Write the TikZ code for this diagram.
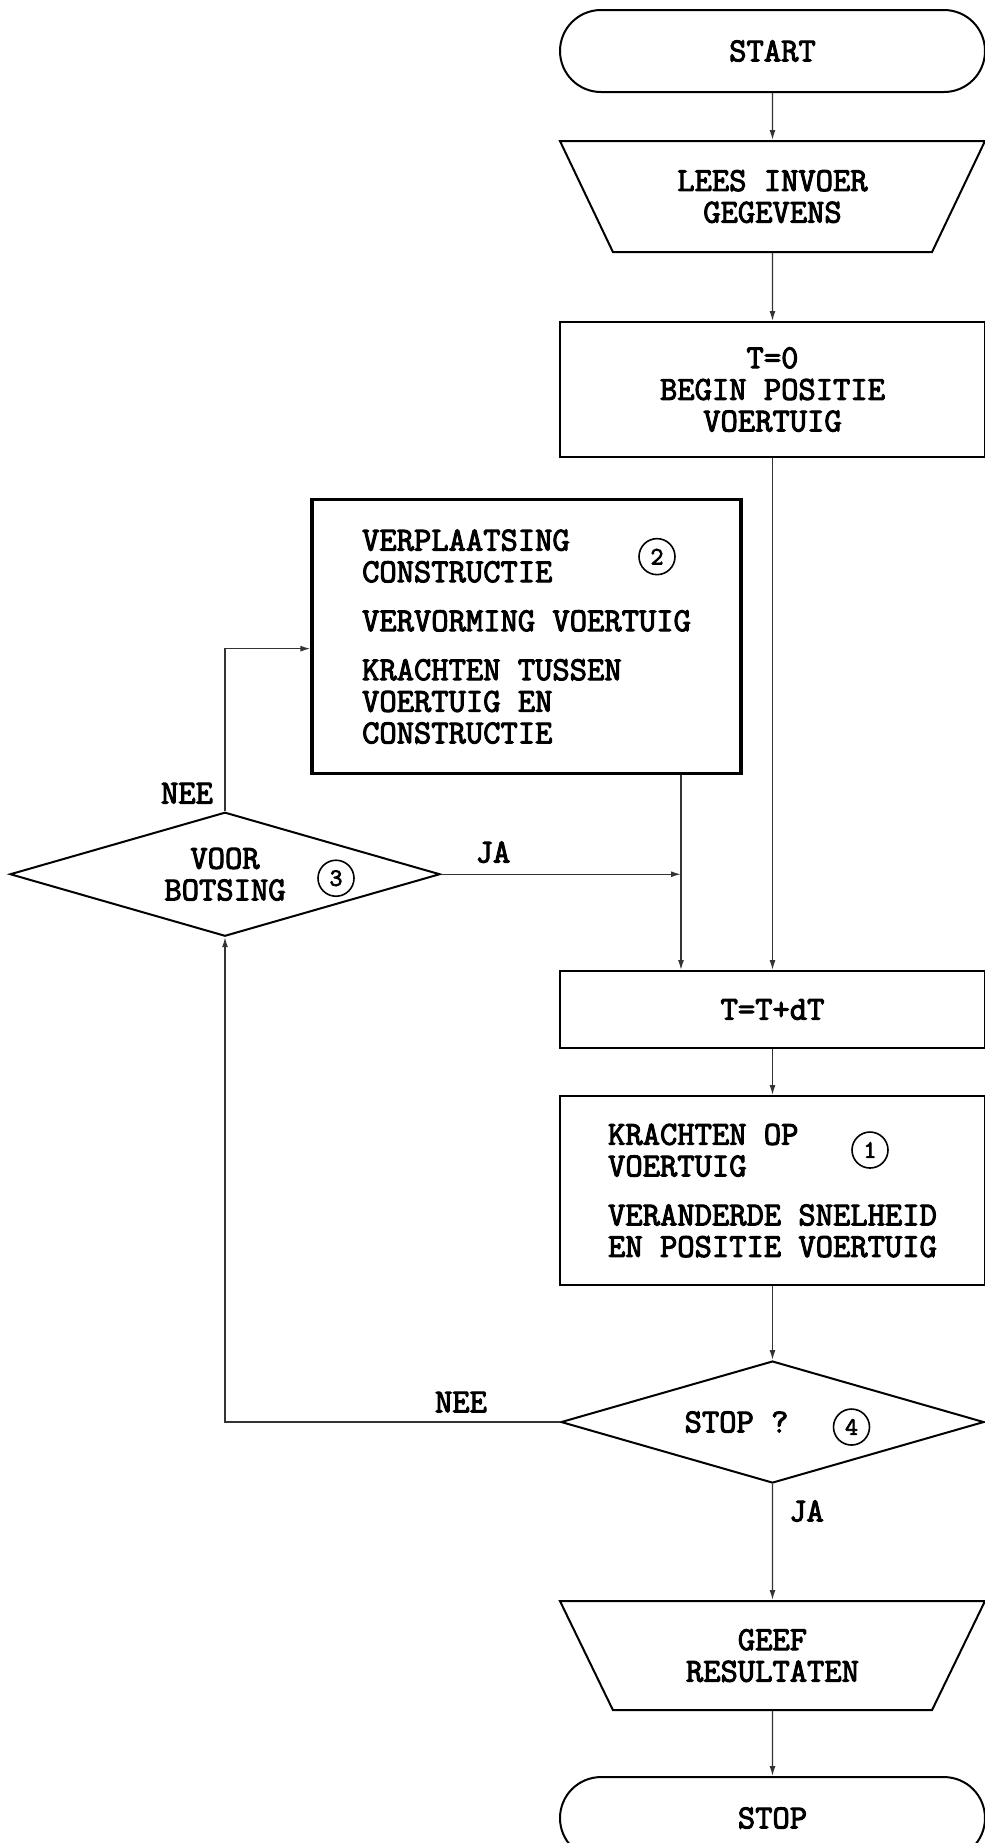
\documentclass[tikz,border=0pt]{standalone}
\usepackage{fontspec}
\newfontfamily\typefont{Latin Modern Mono}[FakeBold=3]
\usetikzlibrary{shapes.geometric, shapes.misc, arrows.meta, positioning}
\tikzset{
  base/.style={draw, line width=1pt, align=center, inner sep=0pt,
               font=\typefont\fontsize{16.8}{15.8}\selectfont},
  term/.style={base, rounded rectangle, minimum width=212.5pt, minimum height=41pt},
  io/.style={base, trapezium, trapezium angle=45, shape border rotate=180,
             trapezium stretches body, minimum width=212.5pt, minimum height=#1},
  proc/.style={base, rectangle, minimum width=212.5pt, minimum height=#1},
  dec/.style={base, diamond, aspect=3.4, minimum width=#1, minimum height=61pt},
  num/.style={circle, draw, line width=0.8pt, minimum size=18pt, inner sep=0pt,
              font=\typefont\fontsize{12.5}{13}\selectfont},
  lbl/.style={inner sep=0pt, font=\typefont\fontsize{16.8}{15.8}\selectfont},
  arr/.style={-{Latex[length=5pt, width=3pt]}, line width=0.7pt, color=black!80},
}

\begin{document}
\begin{tikzpicture}
  \useasboundingbox (0,0) rectangle (492.5pt,-921.5pt);

  % main column
  \node[term] (start) at (386.25pt,-25.5pt) {START};
  \node[io=55.5pt, below=23.5pt of start] (lees) {LEES INVOER\\GEGEVENS};
  \node[proc=67.5pt, below=34pt of lees] (init) {T=0\\BEGIN POSITIE\\VOERTUIG};
  \node[proc=38.5pt, below=256pt of init] (tdt) {T=T+dT};
  \node[proc=94.5pt, below=23pt of tdt, align=left] (force)
    {KRACHTEN OP\\VOERTUIG\\[8.7pt]VERANDERDE SNELHEID\\EN POSITIE VOERTUIG};
  \node[dec=211.5pt, below=37pt of force] (stopq) {STOP ?\hspace*{36pt}};
  \node[io=54.5pt, below=58pt of stopq] (geef) {GEEF\\RESULTATEN};
  \node[term, below=32.5pt of geef] (stop) {STOP};

  % collision branch
  \node[proc=137pt, minimum width=214.5pt, line width=1.6pt, align=left,
        below=20pt of init.south west, xshift=-16.25pt] (move)
    {VERPLAATSING\\CONSTRUCTIE\\[8.7pt]VERVORMING VOERTUIG\\[8.7pt]KRACHTEN TUSSEN\\VOERTUIG EN\\CONSTRUCTIE};
  \node[dec=215pt, minimum height=62pt, below=18pt of move, xshift=-150.75pt] (pre)
    {VOOR\\BOTSING};

  % numbers
  \node[num] (c1) at ([xshift=48.75pt, yshift=20.25pt]force.center) {1};
  \node[num] (c2) at ([xshift=65.25pt, yshift=40pt]move.center) {2};
  \node[num] (c3) at ([xshift=55.5pt, yshift=-2pt]pre.center) {3};
  \node[num] (c4) at ([xshift=39.5pt, yshift=-2.5pt]stopq.center) {4};

  % labels
  \node[lbl] (nee1) at ([xshift=-19pt, yshift=9pt]pre.north) {NEE};
  \node[lbl] (ja1) at ([xshift=26pt, yshift=11pt]pre.east) {JA};
  \node[lbl] (nee2) at ([xshift=-49.5pt, yshift=10pt]stopq.west) {NEE};
  \node[lbl] (ja2) at ([xshift=17pt, yshift=-13.5pt]stopq.south) {JA};

  % arrows
  \coordinate (mrg) at ([xshift=77.25pt]move.south);
  \draw[arr] (start) -- (lees);
  \draw[arr] (lees) -- (init);
  \draw[arr] (init) -- (tdt);
  \draw[arr] (mrg) -- (mrg |- tdt.north);
  \draw[arr] (pre.east) -- (pre.east -| mrg);
  \draw[arr] (pre.north) |- ([yshift=-6pt]move.west);
  \draw[arr] (tdt) -- (force);
  \draw[arr] (force) -- (stopq);
  \draw[arr] (stopq.west) -| (pre.south);
  \draw[arr] (stopq) -- (geef);
  \draw[arr] (geef) -- (stop);

\end{tikzpicture}
\end{document}
